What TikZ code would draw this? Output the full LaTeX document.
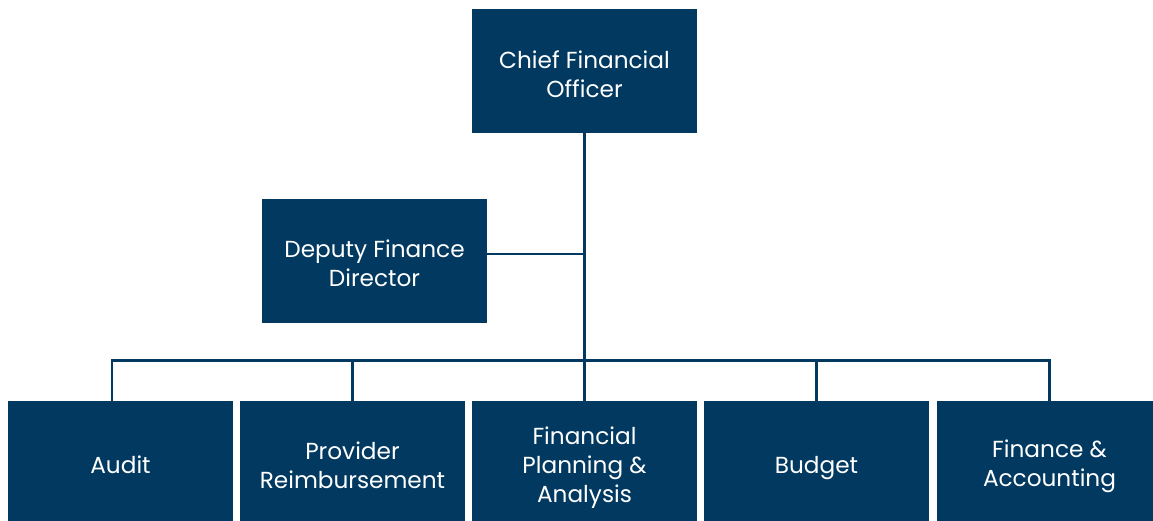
\documentclass[tikz,border=0pt]{standalone}
\usepackage{fontspec}
\setmainfont{Poppins}
\definecolor{navy}{HTML}{023960}
\begin{document}
\begin{tikzpicture}[x=1pt,y=-1pt,
  box/.style={fill=navy,draw=none,minimum width=225pt,minimum height=124pt,inner sep=0pt},
  txt/.style={text=white,inner sep=0pt,align=center,font=\fontsize{23.2}{29}\selectfont},
  conn/.style={draw=navy,line width=2.6pt}]
\useasboundingbox (0,0) rectangle (1153,520);
\clip (0,0) rectangle (1153,520);
\node[box] (cfo) at (584.5,71) {};
\node[box] (dep) at (374.5,261) {};
\node[box] (audit) at (120.5,463) {};
\node[box] (prov) at (352.5,463) {};
\node[box] (fpa) at (584.5,463) {};
\node[box] (bud) at (816.5,463) {};
\node[box] (fin) at (1049.5,463) {};
\node[txt] (cfot) at ([yshift=-3pt]cfo.center) {Chief Financial\\Officer};
\node[txt] (dept) at ([yshift=-2pt]dep.center) {Deputy Finance\\Director};
\node[txt] (auditt) at ([yshift=-2pt]audit.center) {Audit};
\node[txt] (provt) at ([yshift=-2pt]prov.center) {Provider\\Reimbursement};
\node[txt] (fpat) at ([yshift=-5pt]fpa.center) {Financial\\Planning \&\\Analysis};
\node[txt] (budt) at ([yshift=-5pt]bud.center) {Budget};
\node[txt] (fint) at ([yshift=-3pt]fin.center) {Finance \&\\Accounting};
\coordinate (depc) at (487,254);
\coordinate (auditc) at (112,401);
\coordinate (busl) at (112,360.5);
\coordinate (busr) at (1049.5,360.5);
\draw[conn] (cfo.south) -- (fpa.north);
\draw[conn] (depc) -- (depc -| cfo.south);
\draw[conn] (auditc) -- (busl) -- (busr) -- (fin.north);
\draw[conn] (prov.north) -- (prov.north |- busl);
\draw[conn] (bud.north) -- (bud.north |- busl);
\end{tikzpicture}
\end{document}
